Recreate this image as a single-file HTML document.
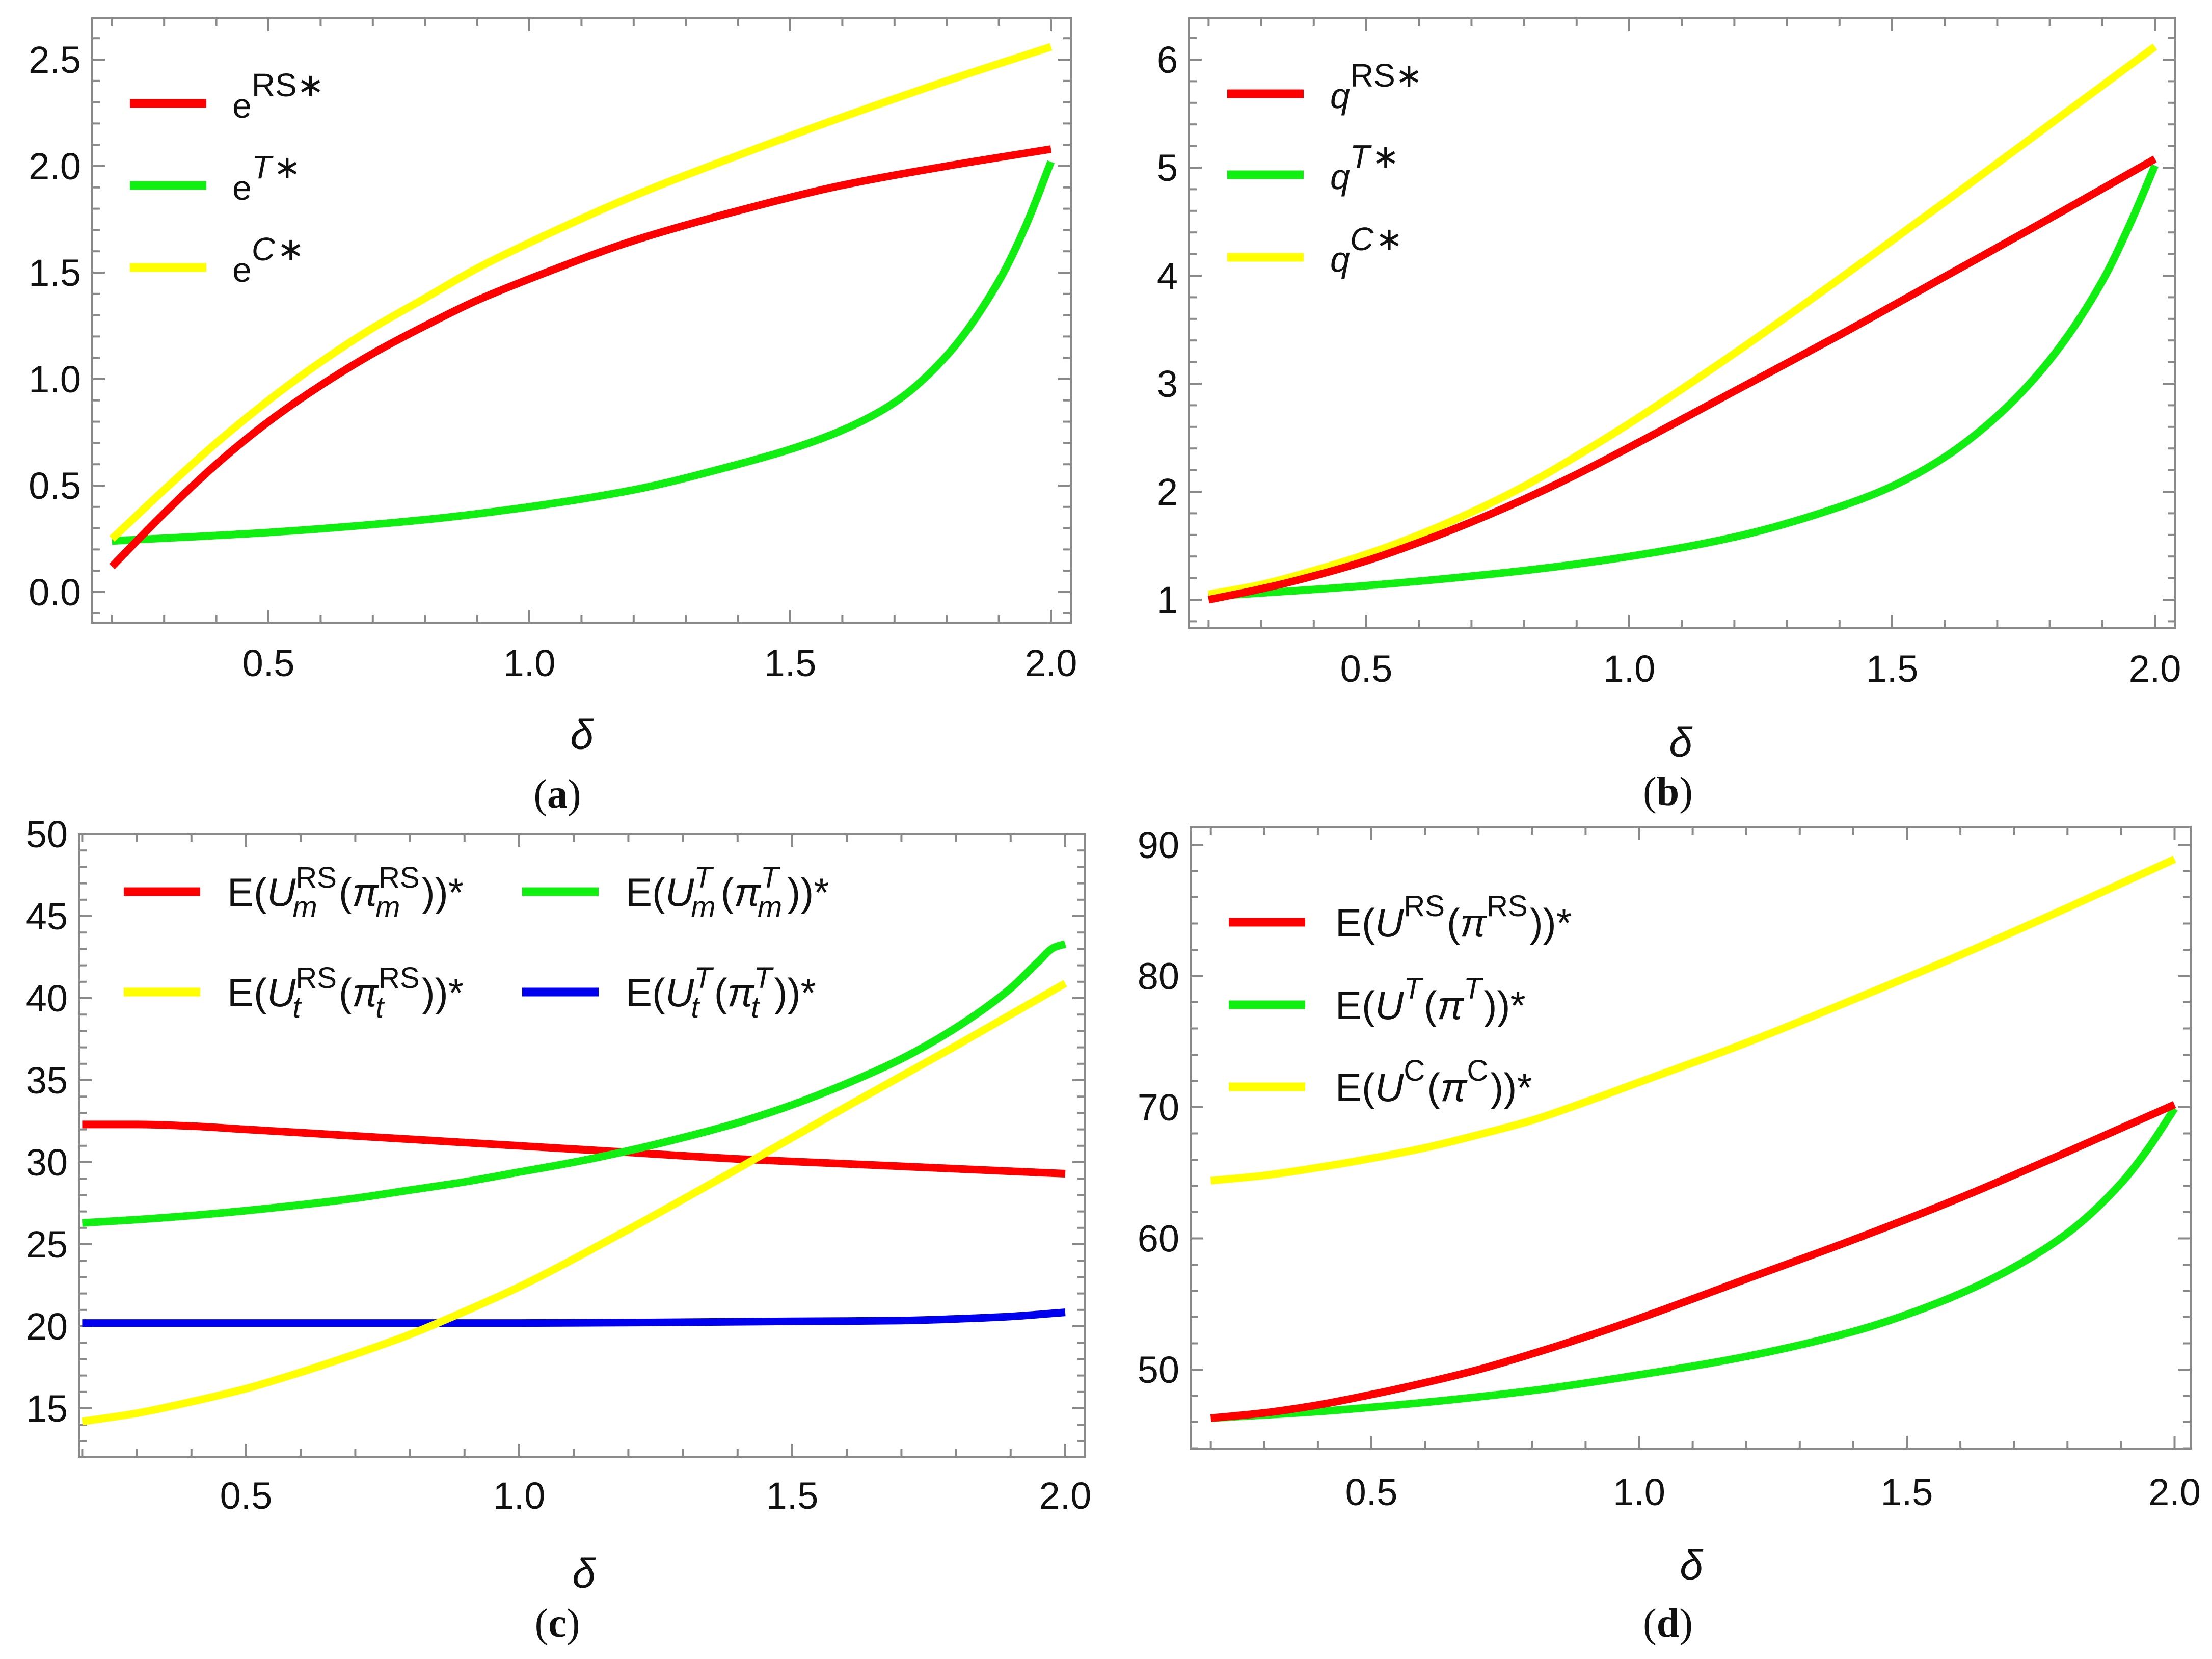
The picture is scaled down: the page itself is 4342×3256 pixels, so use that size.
<!DOCTYPE html>
<html><head><meta charset="utf-8">
<style>
html,body{margin:0;padding:0;background:#fff;}
svg{display:block;}
text{font-family:"Liberation Sans",sans-serif;fill:#111;}
</style></head>
<body>
<svg id="fig" width="4342" height="3256" viewBox="0 0 4342 3256" xmlns="http://www.w3.org/2000/svg"></svg>
<script>
// ---------- Data ----------
const xsA = [0.2,0.3,0.4,0.5,0.6,0.7,0.8,0.9,1.0,1.2,1.4,1.6,1.8,2.0];
const eRS = [0.12,0.37,0.6,0.8,0.97,1.12,1.25,1.37,1.47,1.65,1.79,1.91,2.0,2.08];
const eC  = [0.25,0.48,0.7,0.9,1.08,1.24,1.38,1.52,1.64,1.86,2.05,2.23,2.4,2.56];
const xsAT = [0.2,0.5,0.8,1.0,1.2,1.4,1.5,1.6,1.7,1.8,1.9,1.95,2.0];
const eT  = [0.24,0.28,0.34,0.4,0.48,0.6,0.67,0.76,0.89,1.11,1.46,1.71,2.02];

const xsB = [0.2,0.3,0.4,0.5,0.6,0.7,0.8,0.9,1.0,1.2,1.4,1.6,1.8,2.0];
const qRS = [1.0,1.1,1.22,1.36,1.53,1.72,1.93,2.16,2.41,2.93,3.45,3.99,4.53,5.08];
const qC  = [1.05,1.14,1.27,1.42,1.6,1.81,2.05,2.33,2.63,3.28,3.97,4.68,5.4,6.12];
const xsBT = [0.2,0.5,0.8,1.0,1.2,1.4,1.5,1.6,1.7,1.8,1.9,1.95,2.0];
const qT  = [1.03,1.13,1.27,1.4,1.58,1.86,2.05,2.32,2.7,3.22,3.95,4.45,5.02];

const xsC = [0.2,0.3,0.4,0.5,0.6,0.7,0.8,0.9,1.0,1.2,1.4,1.6,1.8,2.0];
const umRS = [32.3,32.3,32.2,32.0,31.8,31.6,31.4,31.2,31.0,30.6,30.2,29.9,29.6,29.3];
const utRS = [14.2,14.7,15.4,16.2,17.2,18.3,19.5,20.9,22.4,25.9,29.6,33.4,37.1,40.9];
const xsCG = [0.2,0.3,0.4,0.5,0.6,0.7,0.8,0.9,1.0,1.1,1.2,1.3,1.4,1.5,1.6,1.7,1.8,1.9,1.95,1.98,2.0];
const umT = [26.3,26.5,26.75,27.05,27.4,27.8,28.3,28.8,29.4,30.0,30.7,31.5,32.4,33.5,34.8,36.3,38.2,40.6,42.2,43.1,43.3];
const xsCB = [0.2,0.6,1.0,1.5,1.7,1.8,1.9,2.0];
const utT = [20.2,20.2,20.2,20.3,20.35,20.45,20.6,20.85];

const xsD = [0.2,0.3,0.4,0.5,0.6,0.7,0.8,0.9,1.0,1.2,1.4,1.6,1.8,2.0];
const uC  = [64.4,64.8,65.4,66.1,66.9,67.9,69.0,70.4,71.9,74.9,78.2,81.6,85.2,88.9];
const uRS = [46.3,46.7,47.3,48.1,49.0,50.0,51.2,52.5,53.9,56.9,59.9,63.1,66.6,70.2];
const xsDT = [0.2,0.4,0.6,0.8,1.0,1.2,1.4,1.5,1.6,1.7,1.8,1.9,1.95,2.0];
const uT  = [46.3,46.8,47.5,48.4,49.6,51.0,52.9,54.2,55.8,57.8,60.4,64.2,66.8,69.9];

const xTicks = [0.5,1.0,1.5,2.0];
const xTickLabels = ["0.5","1.0","1.5","2.0"];
const yTicksA = [0,0.5,1,1.5,2,2.5];
const yLabelsA = ["0.0","0.5","1.0","1.5","2.0","2.5"];
const yTicksB = [1,2,3,4,5,6];
const yLabelsB = ["1","2","3","4","5","6"];
const yTicksC = [15,20,25,30,35,40,45,50];
const yLabelsC = ["15","20","25","30","35","40","45","50"];
const yTicksD = [50,60,70,80,90];
const yLabelsD = ["50","60","70","80","90"];

const RED="#ff0000", GREEN="#11ee11", YEL="#ffff00", BLUE="#0000ee";
const NS="http://www.w3.org/2000/svg";
const svg=document.getElementById('fig');
function el(tag,attrs,parent){const e=document.createElementNS(NS,tag);for(const k in attrs)e.setAttribute(k,attrs[k]);(parent||svg).appendChild(e);return e;}

function monoPath(pts){
  const n=pts.length, d=[], m=[];
  for(let i=0;i<n-1;i++) d.push((pts[i+1][1]-pts[i][1])/(pts[i+1][0]-pts[i][0]));
  m[0]=d[0]; m[n-1]=d[n-2];
  for(let i=1;i<n-1;i++){
    if(d[i-1]*d[i]<=0) m[i]=0;
    else { const h0=pts[i][0]-pts[i-1][0], h1=pts[i+1][0]-pts[i][0];
      const w1=2*h1+h0, w2=h1+2*h0; m[i]=(w1+w2)/(w1/d[i-1]+w2/d[i]); }
  }
  let s='M'+pts[0][0].toFixed(1)+','+pts[0][1].toFixed(1);
  for(let i=0;i<n-1;i++){
    const h=(pts[i+1][0]-pts[i][0])/3;
    s+=' C'+(pts[i][0]+h).toFixed(1)+','+(pts[i][1]+m[i]*h).toFixed(1)+' '+(pts[i+1][0]-h).toFixed(1)+','+(pts[i+1][1]-m[i+1]*h).toFixed(1)+' '+pts[i+1][0].toFixed(1)+','+pts[i+1][1].toFixed(1);
  }
  return s;
}

function panel(cfg){
  const g=el('g',{});
  
  
  const [L,T,R,B]=cfg.frame;
  const X=v=>cfg.x05+(v-0.5)*cfg.xu;
  const Y=v=>cfg.y0-(v-cfg.yb)*cfg.yu;
  for(let k=2;k<=20;k++){
    const v=k/10;
    const isMaj=(k%5===0);
    const len=isMaj?25:15;
    const t1=el('line',{x1:X(v),x2:X(v),y1:B,y2:B-len,stroke:'#8a8a8a','stroke-width':4},g);
    
    
    const t2=el('line',{x1:X(v),x2:X(v),y1:T,y2:T+len,stroke:'#8a8a8a','stroke-width':4},g);
    
    
  }
  const ymin=cfg.yb-(B-cfg.y0)/cfg.yu, ymax=cfg.yb+(cfg.y0-T)/cfg.yu;
  const n0=Math.ceil(ymin/cfg.minor-1e-6), n1=Math.floor(ymax/cfg.minor+1e-6);
  for(let n=n0;n<=n1;n++){
    const v=n*cfg.minor;
    const isMaj=cfg.yt.some(t=>Math.abs(t-v)<1e-6);
    const len=isMaj?25:15;
    const t1=el('line',{x1:L,x2:L+len,y1:Y(v),y2:Y(v),stroke:'#8a8a8a','stroke-width':4},g);
    
    
    const t2=el('line',{x1:R,x2:R-len,y1:Y(v),y2:Y(v),stroke:'#8a8a8a','stroke-width':4},g);
    
    
  }
  const fr=el('rect',{x:L,y:T,width:R-L,height:B-T,fill:'none',stroke:'#8a8a8a','stroke-width':4},g);
  
  
  xTicks.forEach((v,i)=>{
    const t=el('text',{x:X(v),y:cfg.xlabY,'font-size':74,'text-anchor':'middle'},g);
    t.textContent=xTickLabels[i];
    
    
  });
  cfg.yt.forEach((v,i)=>{
    const t=el('text',{x:L-22,y:Y(v)+26,'font-size':74,'text-anchor':'end'},g);
    t.textContent=cfg.yl[i];
    
    
  });
  const d=el('text',{x:cfg.deltaX,y:cfg.deltaY,'font-size':82,'font-style':'italic','text-anchor':'middle'},g);
  d.textContent='δ';
  
  
  const c=el('text',{x:cfg.capX,y:cfg.capY,'font-size':80,'text-anchor':'middle',style:'font-family:"Liberation Serif",serif'},g);
  c.innerHTML='(<tspan font-weight="bold">'+cfg.cap+'</tspan>)';
  
  
  const clip=el('clipPath',{id:'clip'+cfg.cap},g);
  el('rect',{x:L,y:T,width:R-L,height:B-T},clip);
  cfg.series.forEach(s=>{
    const pts=s.xs.map((x,i)=>[X(x),Y(s.ys[i])]);
    const p=el('path',{d:monoPath(pts),fill:'none',stroke:s.color,'stroke-width':15,'stroke-linejoin':'round','clip-path':'url(#clip'+cfg.cap+')'},g);
    
    
  });
  cfg.legend.forEach(lg=>{
    const lgG=el('g',{},g);
    
    
    const ln=el('line',{x1:lg.lx,x2:lg.lx+150,y1:lg.ly,y2:lg.ly,stroke:lg.color,'stroke-width':17},lgG);
    
    
    let x=lg.tx; const base=lg.ly+28;
    const fs=lg.fs||78, ss=lg.ss||58;
    lg.tokens.forEach(tok=>{
      const mk=(str,xx,yy,size,ital)=>{
        const t=el('text',{x:xx,y:yy,'font-size':size},lgG);
        if(ital)t.setAttribute('font-style','italic');
        t.textContent=str;
        
        
        return t.getComputedTextLength();
      };
      if(tok.sup!==undefined||tok.sub!==undefined){
        let w1=0,w2=0;
        if(tok.sup!==undefined) w1=mk(tok.sup,x+(tok.supdx||0),base-(tok.raise||36),ss,tok.supi);
        if(tok.sub!==undefined) w2=mk(tok.sub,x-6,base+22,ss,true);
        x+=Math.max(w1+(tok.supdx||0),w2)+4;
      } else {
        x+=mk(tok.t,x,base,tok.fs||fs,tok.i);
      }
    });
  });
  svg.appendChild(g);
}

panel({name:'panel-a',cap:'a',frame:[181,36,2102,1222],x05:527,xu:1024,y0:1162,yb:0,yu:418,minor:0.1,
  yt:yTicksA,yl:yLabelsA,xlabY:1327,deltaX:1142,deltaY:1470,capX:1094,capY:1585,
  series:[
    {name:'series-eT',xs:xsAT,ys:eT,color:GREEN},
    {name:'series-eC',xs:xsA,ys:eC,color:YEL},
    {name:'series-eRS',xs:xsA,ys:eRS,color:RED}],
  legend:[
    {lx:255,ly:203,color:RED,tx:456,fs:68,ss:64,tokens:[{t:'e'},{sup:'RS∗',raise:42}]},
    {lx:255,ly:364,color:GREEN,tx:456,fs:68,ss:64,tokens:[{t:'e'},{sup:'T',supi:true,raise:42},{sup:'∗',raise:42}]},
    {lx:255,ly:525,color:YEL,tx:456,fs:68,ss:64,tokens:[{t:'e'},{sup:'C',supi:true,raise:42},{sup:'∗',raise:42}]}]
});
panel({name:'panel-b',cap:'b',frame:[2334,36,4270,1232],x05:2682,xu:1032,y0:1177,yb:1,yu:212,minor:0.2,
  yt:yTicksB,yl:yLabelsB,xlabY:1338,deltaX:3299,deltaY:1485,capX:3274,capY:1580,
  series:[
    {name:'series-qT',xs:xsBT,ys:qT,color:GREEN},
    {name:'series-qC',xs:xsB,ys:qC,color:YEL},
    {name:'series-qRS',xs:xsB,ys:qRS,color:RED}],
  legend:[
    {lx:2409,ly:184,color:RED,tx:2611,fs:70,ss:64,tokens:[{t:'q',i:true},{sup:'RS∗',raise:42}]},
    {lx:2409,ly:343,color:GREEN,tx:2611,fs:70,ss:64,tokens:[{t:'q',i:true},{sup:'T',supi:true,raise:42},{sup:'∗',raise:42}]},
    {lx:2409,ly:505,color:YEL,tx:2611,fs:70,ss:64,tokens:[{t:'q',i:true},{sup:'C',supi:true,raise:42},{sup:'∗',raise:42}]}]
});
const P='π';
panel({name:'panel-c',cap:'c',frame:[155,1637,2130,2859],x05:483,xu:1072,y0:2764,yb:15,yu:32.2,minor:1,
  yt:yTicksC,yl:yLabelsC,xlabY:2961,deltaX:1146,deltaY:3116,capX:1094,capY:3212,
  series:[
    {name:'series-Um-RS',xs:xsC,ys:umRS,color:RED},
    {name:'series-Ut-T',xs:xsCB,ys:utT,color:BLUE},
    {name:'series-Um-T',xs:xsCG,ys:umT,color:GREEN},
    {name:'series-Ut-RS',xs:xsC,ys:utRS,color:YEL}],
  legend:[
    {lx:243,ly:1750,color:RED,tx:446,tokens:[{t:'E('},{t:'U',i:true},{sup:'RS',sub:'m'},{t:'('},{t:P,i:true},{sup:'RS',sub:'m'},{t:'))*'}]},
    {lx:1025,ly:1750,color:GREEN,tx:1228,tokens:[{t:'E('},{t:'U',i:true},{sup:'T',supi:true,sub:'m'},{t:'('},{t:P,i:true},{sup:'T',supi:true,sub:'m'},{t:'))*'}]},
    {lx:243,ly:1947,color:YEL,tx:446,tokens:[{t:'E('},{t:'U',i:true},{sup:'RS',sub:'t'},{t:'('},{t:P,i:true},{sup:'RS',sub:'t'},{t:'))*'}]},
    {lx:1025,ly:1947,color:BLUE,tx:1228,tokens:[{t:'E('},{t:'U',i:true},{sup:'T',supi:true,sub:'t'},{t:'('},{t:P,i:true},{sup:'T',supi:true,sub:'t'},{t:'))*'}]}]
});
panel({name:'panel-d',cap:'d',frame:[2337,1623,4300,2843],x05:2692,xu:1051,y0:2688,yb:50,yu:25.75,minor:2,
  yt:yTicksD,yl:yLabelsD,xlabY:2954,deltaX:3320,deltaY:3100,capX:3274,capY:3212,
  series:[
    {name:'series-UC',xs:xsD,ys:uC,color:YEL},
    {name:'series-UT',xs:xsDT,ys:uT,color:GREEN},
    {name:'series-URS',xs:xsD,ys:uRS,color:RED}],
  legend:[
    {lx:2412,ly:1810,color:RED,tx:2621,tokens:[{t:'E('},{t:'U',i:true},{sup:'RS',raise:40},{t:'('},{t:P,i:true},{sup:'RS',raise:40},{t:'))*'}]},
    {lx:2412,ly:1972,color:GREEN,tx:2621,tokens:[{t:'E('},{t:'U',i:true},{sup:'T',supi:true,raise:40},{t:'('},{t:P,i:true},{sup:'T',supi:true,raise:40},{t:'))*'}]},
    {lx:2412,ly:2133,color:YEL,tx:2621,tokens:[{t:'E('},{t:'U',i:true},{sup:'C',raise:40},{t:'('},{t:P,i:true},{sup:'C',raise:40},{t:'))*'}]}]
});
</script>
</body></html>
